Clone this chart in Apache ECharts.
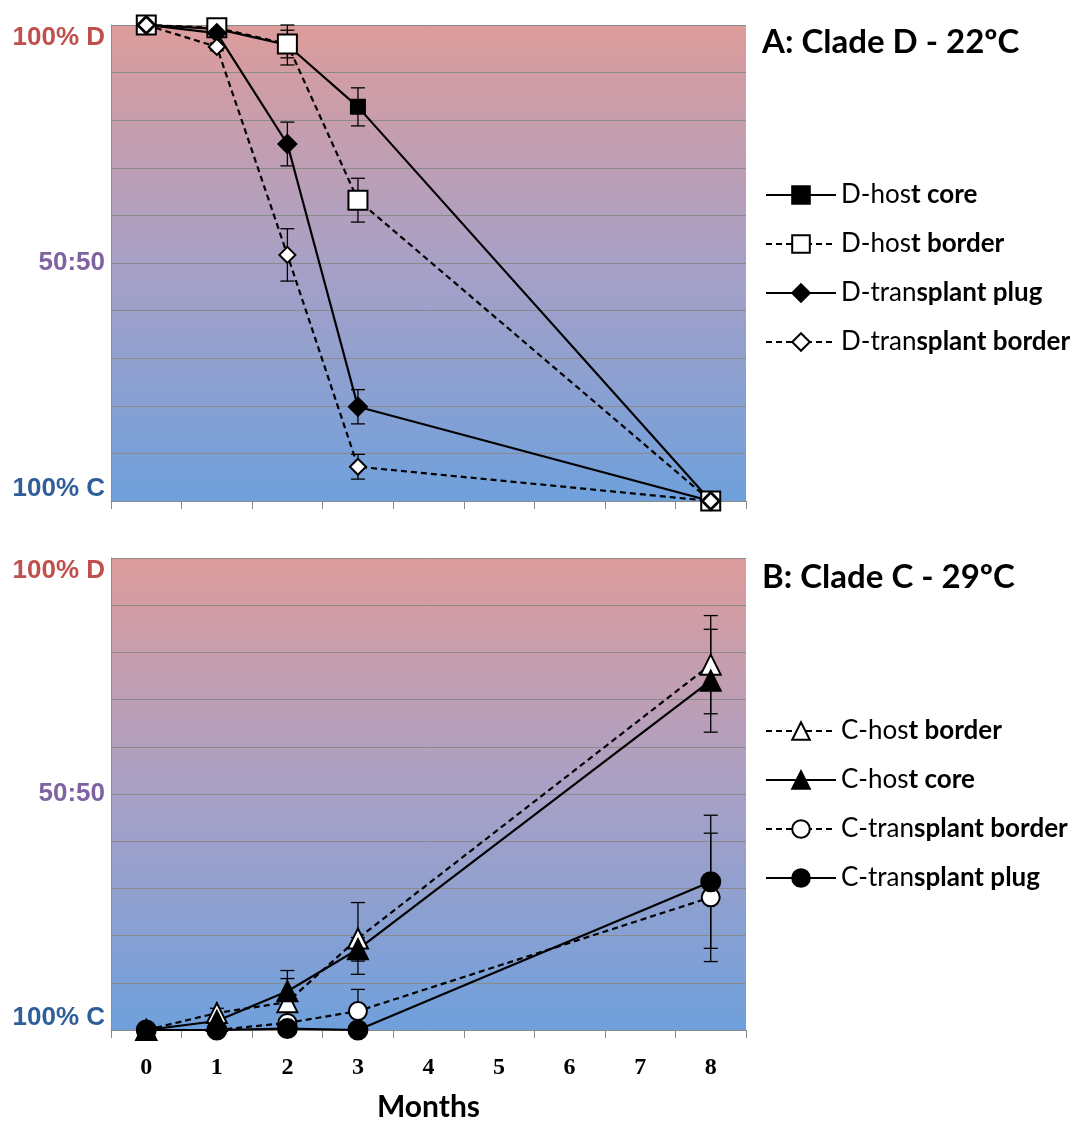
<!DOCTYPE html>
<html>
<head>
<meta charset="utf-8">
<script src="https://cdn.jsdelivr.net/npm/echarts@6/dist/echarts.min.js"></script>
<style>
  html, body { margin: 0; padding: 0; background: #fff; }
  #chart { width: 1076px; height: 1123px; }
</style>
</head>
<body>
<div id="chart"></div>
<script>
// Months after transplantation (category axis, data only at 0-3 and 8)
const months = ['0', '1', '2', '3', '4', '5', '6', '7', '8'];

// Panel A: Clade D at 22 °C (100 = 100% D, 0 = 100% C)
const dHostCore          = [100, 99.2, 95.8, 82.8, null, null, null, null, 0];
const dHostCoreErr       = [0, 0.5, 4.2, 4.0, null, null, null, null, 0];
const dHostBorder        = [100, 99.4, 96.0, 63.2, null, null, null, null, 0];
const dHostBorderErr     = [0, 0.5, 2.9, 4.6, null, null, null, null, 0];
const dTransplantPlug    = [100, 98.3, 75.0, 19.8, null, null, null, null, 0];
const dTransplantPlugErr = [0, 0.8, 4.6, 3.6, null, null, null, null, 0];
const dTransplantBorder    = [100, 95.4, 51.7, 7.2, null, null, null, null, 0];
const dTransplantBorderErr = [0, 0.8, 5.5, 2.6, null, null, null, null, 0];

// Panel B: Clade C at 29 °C
const cHostBorder          = [0, 3.6, 5.9, 19.4, null, null, null, null, 77.4];
const cHostBorderErr       = [0, 1.0, 5.0, 7.6, null, null, null, null, 10.4];
const cHostCore            = [0, 1.9, 8.2, 17.1, null, null, null, null, 74.0];
const cHostCoreErr         = [0, 0.8, 4.4, 2.5, null, null, null, null, 10.9];
const cTransplantBorder    = [0, 0, 1.5, 4.0, null, null, null, null, 28.1];
const cTransplantBorderErr = [0, 0, 1.0, 4.6, null, null, null, null, 13.6];
const cTransplantPlug      = [0, 0, 0.3, 0, null, null, null, null, 31.4];
const cTransplantPlugErr   = [0, 0, 0.5, 0, null, null, null, null, 14.1];

// Legend labels: [plain part, bold part]
const namesA = [
  ['D-hos', 't core'],
  ['D-hos', 't border'],
  ['D-tran', 'splant plug'],
  ['D-tran', 'splant border']
];
const namesB = [
  ['C-hos', 't border'],
  ['C-hos', 't core'],
  ['C-tran', 'splant border'],
  ['C-tran', 'splant plug']
];

const yTickLabels = { 100: '100% D', 50: '50:50', 0: '100% C' };

const SANS = 'Lato, "Open Sans", sans-serif';
const LABEL_FONT = '"Liberation Sans", Arial, sans-serif';
const GRID_LINE = '#8a8a8a';

const chart = echarts.init(document.getElementById('chart'), null, { renderer: 'canvas' });

function bg() {
  return new echarts.graphic.LinearGradient(0, 0, 0, 1, [
    { offset: 0, color: '#DD9C9B' },
    { offset: 0.5, color: '#A8A0C6' },
    { offset: 1, color: '#6FA0DC' }
  ]);
}

function yAxisFor(gridIndex) {
  return {
    type: 'value', gridIndex, min: 0, max: 100, interval: 10,
    axisLine: { show: true, lineStyle: { color: GRID_LINE, width: 1 } },
    axisTick: { show: false },
    splitLine: { show: true, lineStyle: { color: GRID_LINE, width: 1 } },
    axisLabel: {
      margin: 6,
      formatter: v => {
        if (v === 100) return '{d|' + yTickLabels[100] + '}';
        if (v === 50) return '{m|' + yTickLabels[50] + '}';
        if (v === 0) return '{c|' + yTickLabels[0] + '}';
        return '';
      },
      rich: {
        d: { color: '#C0504D', fontFamily: LABEL_FONT, fontWeight: 'bold', fontSize: 26, padding: [26, 0, 0, 0] },
        m: { color: '#7F63A1', fontFamily: LABEL_FONT, fontWeight: 'bold', fontSize: 26 },
        c: { color: '#2F5E98', fontFamily: LABEL_FONT, fontWeight: 'bold', fontSize: 26, padding: [0, 0, 24, 0] }
      }
    }
  };
}

function xAxisFor(gridIndex, showLabels) {
  return {
    type: 'category', gridIndex, data: months, boundaryGap: true,
    axisLine: { show: true, lineStyle: { color: GRID_LINE, width: 1 } },
    axisTick: { show: true, length: 8, lineStyle: { color: GRID_LINE, width: 1 } },
    axisLabel: {
      show: showLabels, margin: 26, color: '#000',
      fontFamily: '"Liberation Serif", "DejaVu Serif", serif', fontWeight: 'bold', fontSize: 24
    },
    name: showLabels ? 'Months' : '',
    nameLocation: 'middle', nameGap: 62,
    nameTextStyle: { color: '#000', fontFamily: SANS, fontWeight: 'bold', fontSize: 30 },
    splitLine: { show: false }
  };
}

function lineSeries(name, values, gridIndex, symbol, size, filled, dashed) {
  return {
    type: 'line', name, xAxisIndex: gridIndex, yAxisIndex: gridIndex,
    data: values, connectNulls: true, symbol, symbolSize: size, showSymbol: true,
    lineStyle: { color: '#000', width: 2.2, type: dashed ? [6, 4] : 'solid' },
    itemStyle: { color: filled ? '#000' : '#fff', borderColor: '#000', borderWidth: 2 },
    emphasis: { disabled: true },
    z: 3
  };
}

function errorSeries(values, errs, gridIndex) {
  const data = [];
  values.forEach((v, i) => { if (v != null && errs[i] > 0) data.push([i, v, errs[i]]); });
  return {
    type: 'custom', xAxisIndex: gridIndex, yAxisIndex: gridIndex,
    data, encode: { x: 0, y: 1 }, z: 2, silent: true,
    renderItem: (params, api) => {
      const i = api.value(0), v = api.value(1), e = api.value(2);
      const hi = api.coord([i, Math.min(100, v + e)]);
      const lo = api.coord([i, Math.max(0, v - e)]);
      const cap = 7;
      const style = { stroke: '#000', lineWidth: 1.3 };
      return {
        type: 'group',
        children: [
          { type: 'line', shape: { x1: hi[0], y1: hi[1], x2: lo[0], y2: lo[1] }, style },
          { type: 'line', shape: { x1: hi[0] - cap, y1: hi[1], x2: hi[0] + cap, y2: hi[1] }, style },
          { type: 'line', shape: { x1: lo[0] - cap, y1: lo[1], x2: lo[0] + cap, y2: lo[1] }, style }
        ]
      };
    }
  };
}

const legendName = pair => pair[0] + pair[1];
const legendRich = {
  n: { fontFamily: SANS, fontSize: 26, color: '#000' },
  b: { fontFamily: SANS, fontSize: 26, fontWeight: 'bold', color: '#000' }
};
function legendFor(pairs, top) {
  const lookup = {};
  pairs.forEach(p => { lookup[legendName(p)] = p; });
  return {
    orient: 'vertical', left: 765, top, itemWidth: 70, itemHeight: 22, itemGap: 23,
    padding: 0, selectedMode: false,
    data: pairs.map(legendName),
    formatter: name => '{n|' + lookup[name][0] + '}{b|' + lookup[name][1] + '}',
    textStyle: { rich: legendRich, fontSize: 26, fontFamily: SANS }
  };
}

const option = {
  animation: false,
  backgroundColor: '#fff',
  title: [
    { text: 'A: Clade D - 22ºC', left: 757, top: 21,
      textStyle: { fontFamily: SANS, fontWeight: 'bold', fontSize: 33, color: '#000' } },
    { text: 'B: Clade C - 29ºC', left: 757, top: 556,
      textStyle: { fontFamily: SANS, fontWeight: 'bold', fontSize: 33, color: '#000' } }
  ],
  legend: [legendFor(namesA, 182), legendFor(namesB, 718)],
  grid: [
    { left: 111, top: 25, width: 635, height: 476, show: true, backgroundColor: bg(), borderWidth: 0 },
    { left: 111, top: 558, width: 635, height: 474, show: true, backgroundColor: bg(), borderWidth: 0 }
  ],
  xAxis: [xAxisFor(0, false), xAxisFor(1, true)],
  yAxis: [yAxisFor(0), yAxisFor(1)],
  series: [
    errorSeries(dHostCore, dHostCoreErr, 0),
    errorSeries(dHostBorder, dHostBorderErr, 0),
    errorSeries(dTransplantPlug, dTransplantPlugErr, 0),
    errorSeries(dTransplantBorder, dTransplantBorderErr, 0),
    lineSeries(legendName(namesA[0]), dHostCore, 0, 'rect', 14, true, false),
    lineSeries(legendName(namesA[1]), dHostBorder, 0, 'rect', 19, false, true),
    lineSeries(legendName(namesA[2]), dTransplantPlug, 0, 'diamond', 18, true, false),
    lineSeries(legendName(namesA[3]), dTransplantBorder, 0, 'diamond', 16, false, true),

    errorSeries(cHostBorder, cHostBorderErr, 1),
    errorSeries(cHostCore, cHostCoreErr, 1),
    errorSeries(cTransplantBorder, cTransplantBorderErr, 1),
    errorSeries(cTransplantPlug, cTransplantPlugErr, 1),
    lineSeries(legendName(namesB[0]), cHostBorder, 1, 'triangle', 20, false, true),
    lineSeries(legendName(namesB[1]), cHostCore, 1, 'triangle', 20, true, false),
    lineSeries(legendName(namesB[2]), cTransplantBorder, 1, 'circle', 18, false, true),
    lineSeries(legendName(namesB[3]), cTransplantPlug, 1, 'circle', 19, true, false)
  ]
};

chart.setOption(option);
</script>
</body>
</html>
